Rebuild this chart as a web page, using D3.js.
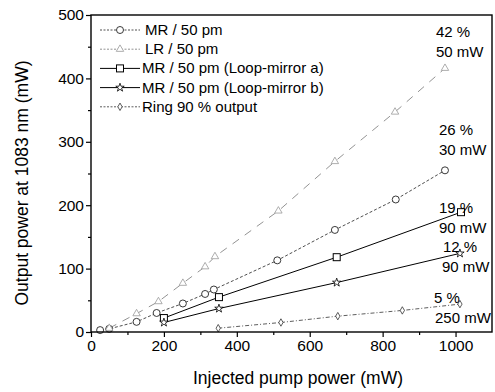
<!DOCTYPE html>
<html><head><meta charset="utf-8">
<script src="https://cdn.jsdelivr.net/npm/d3@7"></script>
<style>body{margin:0;background:#fff}svg{font-family:"Liberation Sans",Arial,sans-serif}</style>
</head><body><svg id="c" width="495" height="392"></svg>
<script>
const mrX=[25,50,125,180,252,313,337,511,669,836,971];
const mrY=[3,5,16,30,45,60,67,113,161,209,255];
const lrX=[50,125,185,252,313,340,514,669,834,971];
const lrY=[6,29,48,77,103,119,191,269,347,416];
const laX=[200,351,674,1015];
const laY=[22,55,118,189];
const lbX=[200,351,674,1012];
const lbY=[15,37,78,124];
const ringX=[349,521,677,854,1012];
const ringY=[6,15,25,34,44];
const legendLabels=["MR / 50 pm","LR / 50 pm","MR / 50 pm (Loop-mirror a)","MR / 50 pm (Loop-mirror b)","Ring 90 % output"];
const annPct=["42 %","26 %","19 %","12 %","5 %"];
const annPow=["50 mW","30 mW","90 mW","90 mW","250 mW"];
const xTicks=[0,200,400,600,800,1000];
const yTicks=[0,100,200,300,400,500];

const svg=d3.select("#c");
const x=d3.scaleLinear().domain([0,1100]).range([91,492]);
const y=d3.scaleLinear().domain([0,500]).range([332,15]);

const series=[
 {xs:mrX,ys:mrY,sym:"circle",dash:"3,2",color:"#222",w:0.8,mcol:"#222"},
 {xs:lrX,ys:lrY,sym:"triangle",dash:"8,7",color:"#777",w:0.8,mcol:"#999"},
 {xs:laX,ys:laY,sym:"square",dash:null,color:"#000",w:1,mcol:"#000"},
 {xs:lbX,ys:lbY,sym:"star",dash:null,color:"#000",w:1,mcol:"#000"},
 {xs:ringX,ys:ringY,sym:"diamond",dash:"4,2,1,2",color:"#333",w:0.8,mcol:"#333"}
];
function marker(g,sym,cx,cy,col){
  if(sym==="circle") g.append("circle").attr("cx",cx).attr("cy",cy).attr("r",3.5).attr("fill","#fff").attr("stroke",col).attr("stroke-width",0.9);
  else if(sym==="square") g.append("rect").attr("x",cx-3.5).attr("y",cy-3.5).attr("width",7).attr("height",7).attr("fill","#fff").attr("stroke",col).attr("stroke-width",1);
  else {
    const type={triangle:d3.symbolTriangle,star:d3.symbolStar,diamond:d3.symbolDiamond}[sym];
    const size={triangle:24,star:22,diamond:16}[sym];
    g.append("path").attr("d",d3.symbol().type(type).size(size)()).attr("transform",`translate(${cx},${cy})`)
     .attr("fill","#fff").attr("stroke",col).attr("stroke-width",0.8);
  }
}
const line=d3.line().x(d=>x(d[0])).y(d=>y(d[1]));
series.forEach(s=>{
  const pts=s.xs.map((v,i)=>[v,s.ys[i]]);
  svg.append("path").attr("d",line(pts)).attr("fill","none").attr("stroke",s.color).attr("stroke-width",s.w).attr("stroke-dasharray",s.dash);
});
series.forEach(s=>{
  const g=svg.append("g");
  s.xs.forEach((v,i)=>marker(g,s.sym,x(v),y(s.ys[i]),s.mcol));
});
const xa=svg.append("g").attr("transform","translate(0,332)").call(d3.axisBottom(x).tickValues(xTicks).tickSize(5).tickPadding(3).tickFormat(d3.format("d")));
const xm=svg.append("g").attr("transform","translate(0,332)").call(d3.axisBottom(x).tickValues(d3.range(100,1100,200)).tickSize(3).tickFormat(""));
const ya=svg.append("g").attr("transform","translate(91,0)").call(d3.axisLeft(y).tickValues(yTicks).tickSize(5).tickPadding(2).tickFormat(d3.format("d")));
const ym=svg.append("g").attr("transform","translate(91,0)").call(d3.axisLeft(y).tickValues(d3.range(50,500,100)).tickSize(3).tickFormat(""));
[xa,xm,ya,ym].forEach(a=>{a.select(".domain").remove();a.selectAll("line").attr("stroke","#000").attr("stroke-width",1.2);
  a.selectAll("text").attr("font-size",15.5).attr("fill","#000").attr("font-family","Liberation Sans, Arial, sans-serif");});
svg.append("rect").attr("x",91).attr("y",15).attr("width",401).attr("height",317).attr("fill","none").attr("stroke","#000").attr("stroke-width",1.4);
svg.append("text").attr("x",298).attr("y",384).attr("text-anchor","middle").attr("font-size",17.5).text("Injected pump power (mW)");
svg.append("text").attr("transform","translate(28,183) rotate(-90)").attr("text-anchor","middle").attr("font-size",17.5).text("Output power at 1083 nm (mW)");
const lg=svg.append("g");
legendLabels.forEach((t,i)=>{
  const s=series[i];const ly=30+i*19.2;
  lg.append("line").attr("x1",100).attr("x2",140).attr("y1",ly).attr("y2",ly).attr("stroke",s.color).attr("stroke-width",s.w).attr("stroke-dasharray",s.dash?"2,1.5":null);
  marker(lg,s.sym,120,ly,s.mcol);
  lg.append("text").attr("x",i<2?145:142).attr("y",ly+5).attr("font-size",15).text(t);
});
const annX=[436,439,439,443,434];
const annPctY=[32,130,208,247,298];
const annPowX=[436,439,439,442,435];
annPct.forEach((t,i)=>{
  svg.append("text").attr("x",annX[i]).attr("y",annPctY[i]+5).attr("font-size",15).text(t);
  svg.append("text").attr("x",annPowX[i]).attr("y",annPctY[i]+25).attr("font-size",15).text(annPow[i]);
});
</script></body></html>
